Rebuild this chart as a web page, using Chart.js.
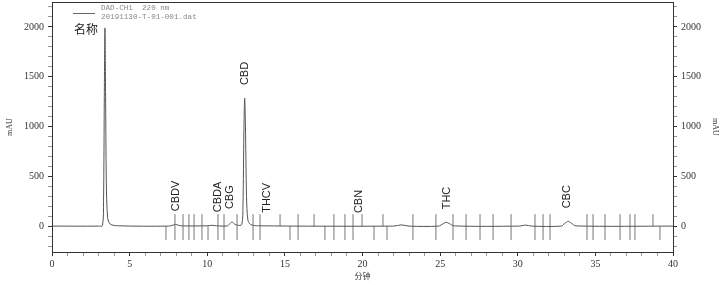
<!DOCTYPE html>
<html>
<head>
<meta charset="utf-8">
<script src="https://cdn.jsdelivr.net/npm/chart.js@4"></script>
<style>
  html, body { margin: 0; padding: 0; background: #fff; }
  #wrap { width: 725px; height: 285px; }
</style>
</head>
<body>
<div id="wrap"><canvas id="chrom" width="725" height="285"></canvas></div>
<script>
// trace: retention time (min) and signal (mAU)
var TRACE_T = [0, 3.0, 3.25, 3.32, 3.37, 3.41, 3.45, 3.50, 3.58, 3.75, 4.3, 7.5, 7.8, 7.95, 8.15, 8.4,
  10.0, 10.3, 10.6, 11.3, 11.45, 11.6, 11.75, 11.95, 12.22, 12.3, 12.36, 12.41, 12.46, 12.53, 12.62, 12.8, 13.3,
  22.0, 22.5, 23.0, 24.9, 25.2, 25.4, 25.6, 25.9, 30.1, 30.5, 30.9, 32.8, 33.05, 33.25, 33.45, 33.75, 40];
var TRACE_Y = [0, 0, 5, 250, 1300, 1990, 1350, 450, 90, 20, 3, 0, 10, 18, 8, 2,
  3, 8, 3, 2, 25, 40, 22, 8, 15, 200, 950, 1285, 1000, 300, 60, 15, 3,
  0, 12, 0, 0, 25, 38, 25, 2, 0, 10, 0, 0, 30, 48, 30, 2, 0];

// peak names and where they sit
var PEAK_NAMES = ["CBDV", "CBDA", "CBG", "CBD", "THCV", "CBN", "THC", "CBC"];
var PEAK_TIMES = [7.99, 10.69, 11.47, 12.41, 13.85, 19.77, 25.44, 33.17];
var PEAK_HEIGHTS = [18, 8, 40, 1285, 3, 0, 38, 48];

// integration event marks
var MARK_BOTH = [7.92, 8.44, 8.82, 9.15, 9.66, 10.69, 11.08, 11.92, 12.95, 13.40, 15.85, 18.16, 18.87, 19.39,
  23.25, 24.73, 25.83, 26.67, 27.57, 28.41, 29.57, 31.11, 31.63, 32.08, 34.46, 34.85, 35.62, 36.59, 37.23, 37.55];
var MARK_UP = [14.69, 16.88, 19.97, 21.32, 38.71];
var MARK_DOWN = [7.34, 10.05, 15.33, 17.58, 20.74, 21.58, 39.16];

var Y_TICKS = [0, 500, 1000, 1500, 2000];
var X_TICKS = [0, 5, 10, 15, 20, 25, 30, 35, 40];

var TRACE = "#555";
var MARK = "#777";
var AXIS = "#333";
var SERIF = "'Liberation Serif', 'DejaVu Serif', serif";

function pts(ts, y) {
  return ts.map(function (t) { return { x: t, y: y }; });
}

function markSet(ts, y, r) {
  return {
    type: "scatter",
    data: pts(ts, y),
    pointStyle: "line",
    rotation: 90,
    radius: r,
    borderColor: MARK,
    borderWidth: 1,
    yAxisID: "y"
  };
}

var tickColor = function (c) {
  return c.tick && (c.tick.value % 500 === 0) ? AXIS : "#999";
};
var xTickColor = function (c) {
  return c.tick && (c.tick.value % 5 === 0) ? AXIS : "#999";
};

function yMinorTicks(s) {
  s.ticks = [];
  for (var v = -200; v <= 2200; v += 100) s.ticks.push({ value: v });
}

function yAxis(pos) {
  return {
    position: pos,
    min: -260,
    max: 2250,
    afterBuildTicks: yMinorTicks,
    afterFit: function (s) { s.width = 52; s.paddingTop = 0; s.paddingBottom = 0; },
    ticks: {
      autoSkip: false,
      padding: 4,
      color: AXIS,
      font: { family: SERIF, size: 10 },
      callback: function (v) { return Y_TICKS.indexOf(v) >= 0 ? String(v) : ""; }
    },
    grid: { drawOnChartArea: false, tickLength: 4, color: tickColor },
    border: { color: AXIS },
    title: {
      display: true,
      text: "mAU",
      color: AXIS,
      padding: { top: 5, bottom: 0 },
      font: { family: SERIF, size: 8 }
    }
  };
}

var labelsPlugin = {
  id: "peakLabels",
  afterDatasetsDraw: function (chart) {
    var c = chart.ctx, xs = chart.scales.x, ys = chart.scales.y;
    c.save();
    c.fillStyle = "#222";
    c.font = "11px 'Liberation Sans', Arial, sans-serif";
    c.textAlign = "left";
    c.textBaseline = "middle";
    for (var i = 0; i < PEAK_NAMES.length; i++) {
      var px = xs.getPixelForValue(PEAK_TIMES[i]);
      var base = Math.min(ys.getPixelForValue(PEAK_HEIGHTS[i]), ys.getPixelForValue(0));
      c.save();
      c.translate(px, base - 13);
      c.rotate(-Math.PI / 2);
      c.fillText(PEAK_NAMES[i], 0, 0);
      c.restore();
    }
    // frame
    var a = chart.chartArea;
    c.strokeStyle = AXIS;
    c.lineWidth = 1;
    c.strokeRect(a.left + 0.5, a.top + 0.5, a.right - a.left, a.bottom - a.top);
    // legend block
    c.strokeStyle = "#666";
    c.beginPath();
    c.moveTo(73, 13.5);
    c.lineTo(95, 13.5);
    c.stroke();
    c.fillStyle = "#888";
    c.font = "7.6px 'Liberation Mono', 'DejaVu Sans Mono', monospace";
    c.textBaseline = "middle";
    c.fillText("DAD-CH1  220 nm", 101, 8);
    c.fillText("20191130-T-01-001.dat", 101, 17);
    c.fillStyle = "#222";
    c.font = "12px 'Noto Sans CJK SC', sans-serif";
    c.fillText("名称", 74, 29);
    c.restore();
  }
};

var ctx = document.getElementById("chrom").getContext("2d");
var chart = new Chart(ctx, {
  type: "line",
  data: {
    datasets: [
      {
        data: TRACE_T.map(function (t, i) { return { x: t, y: TRACE_Y[i] }; }),
        borderColor: TRACE,
        borderWidth: 1,
        pointRadius: 0,
        tension: 0.3,
        fill: false,
        yAxisID: "y"
      },
      markSet(MARK_BOTH, -10, 13),
      markSet(MARK_UP, 60, 6),
      markSet(MARK_DOWN, -70, 7)
    ]
  },
  options: {
    responsive: false,
    animation: false,
    devicePixelRatio: 1,
    layout: { autoPadding: false, padding: { top: 2, left: 0, right: 0, bottom: 0 } },
    plugins: { legend: { display: false }, tooltip: { enabled: false } },
    scales: {
      x: {
        type: "linear",
        min: 0,
        max: 40,
        afterBuildTicks: function (s) {
          s.ticks = [];
          for (var v = 0; v <= 40; v++) s.ticks.push({ value: v });
        },
        afterFit: function (s) { s.height = 33; s.paddingLeft = 0; s.paddingRight = 0; },
        ticks: {
          autoSkip: false,
          maxRotation: 0,
          padding: 2,
          color: AXIS,
          font: { family: SERIF, size: 10 },
          callback: function (v) { return X_TICKS.indexOf(v) >= 0 ? v : ""; }
        },
        grid: { drawOnChartArea: false, tickLength: 4, color: xTickColor },
        border: { color: AXIS },
        title: {
          display: true,
          text: "分钟",
          color: AXIS,
          padding: { top: 0, bottom: 4 },
          font: { family: "'Noto Sans CJK SC', sans-serif", size: 8 }
        }
      },
      y: yAxis("left"),
      y2: yAxis("right")
    }
  },
  plugins: [labelsPlugin]
});
</script>
</body>
</html>
